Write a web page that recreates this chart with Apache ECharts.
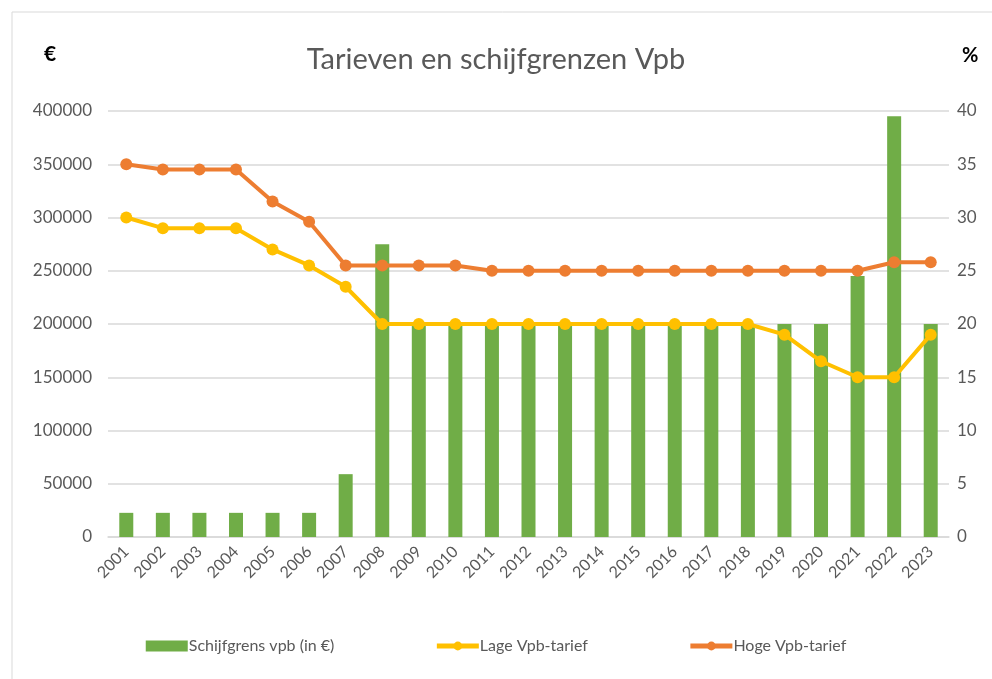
<!DOCTYPE html>
<html>
<head>
<meta charset="utf-8">
<script src="https://cdn.jsdelivr.net/npm/echarts@6/dist/echarts.min.js"></script>
<style>
  html, body { margin: 0; padding: 0; background: #fff; }
  #chart { width: 992px; height: 679px; }
</style>
</head>
<body>
<div id="chart"></div>
<script>
// jaren en waarden
const years = ['2001','2002','2003','2004','2005','2006','2007','2008','2009','2010','2011','2012',
  '2013','2014','2015','2016','2017','2018','2019','2020','2021','2022','2023'];
const schijfgrens = [22689, 22689, 22689, 22689, 22689, 22689, 59000, 275000, 200000, 200000, 200000, 200000,
  200000, 200000, 200000, 200000, 200000, 200000, 200000, 200000, 245000, 395000, 200000];
const lageTarief = [30, 29, 29, 29, 27, 25.5, 23.5, 20, 20, 20, 20, 20,
  20, 20, 20, 20, 20, 20, 19, 16.5, 15, 15, 19];
const hogeTarief = [35, 34.5, 34.5, 34.5, 31.5, 29.6, 25.5, 25.5, 25.5, 25.5, 25, 25,
  25, 25, 25, 25, 25, 25, 25, 25, 25, 25.8, 25.8];
const leftTicks = [0, 400000, 50000];
const rightTicks = [0, 40, 5];

const textColor = '#595959';
const font = 'Lato';

const chart = echarts.init(document.getElementById('chart'));

chart.setOption({
  backgroundColor: '#fff',
  textStyle: { fontFamily: font },
  title: {
    text: 'Tarieven en schijfgrenzen Vpb',
    left: 'center',
    top: 40,
    textStyle: { fontFamily: font, fontSize: 29, fontWeight: 'normal', color: textColor }
  },
  graphic: [
    { type: 'rect', shape: { x: 12, y: 12, width: 1000, height: 700 },
      style: { fill: 'none', stroke: '#d9d9d9', lineWidth: 1 }, silent: true },
    { type: 'text', left: 44, top: 44, style: { text: '€', font: 'bold 21px ' + font, fill: '#000' } },
    { type: 'text', left: 962, top: 46, style: { text: '%', font: 'bold 20px ' + font, fill: '#000' } }
  ],
  legend: {
    bottom: 20,
    left: 'center',
    itemGap: 100,
    itemWidth: 42,
    itemHeight: 11,
    textStyle: { fontFamily: font, fontSize: 16, color: textColor, padding: [0, 0, 0, -4] },
    data: [
      { name: 'Schijfgrens vpb (in €)', icon: 'rect' },
      { name: 'Lage Vpb-tarief', lineStyle: { width: 5 } },
      { name: 'Hoge Vpb-tarief', lineStyle: { width: 5 } }
    ]
  },
  grid: { left: 108, right: 43, top: 111, bottom: 142 },
  xAxis: {
    type: 'category',
    data: years,
    axisTick: { show: false },
    axisLine: { lineStyle: { color: '#d9d9d9', width: 1.5 } },
    axisLabel: { rotate: 45, color: textColor, fontSize: 16, fontFamily: font, margin: 12 }
  },
  yAxis: [
    {
      type: 'value', min: leftTicks[0], max: leftTicks[1], interval: leftTicks[2],
      axisLine: { show: false }, axisTick: { show: false },
      axisLabel: { color: textColor, fontSize: 17, fontFamily: font, margin: 16, formatter: v => String(v) },
      splitLine: { lineStyle: { color: '#d9d9d9', width: 1.5 } }
    },
    {
      type: 'value', min: rightTicks[0], max: rightTicks[1], interval: rightTicks[2],
      axisLine: { show: false }, axisTick: { show: false },
      axisLabel: { color: textColor, fontSize: 17, fontFamily: font, margin: 8 },
      splitLine: { show: false }
    }
  ],
  series: [
    {
      name: 'Schijfgrens vpb (in €)', type: 'bar', data: schijfgrens,
      barWidth: 14, itemStyle: { color: '#70AD47' }
    },
    {
      name: 'Lage Vpb-tarief', type: 'line', yAxisIndex: 1, data: lageTarief,
      symbol: 'circle', symbolSize: 12,
      lineStyle: { color: '#FFC000', width: 4 }, itemStyle: { color: '#FFC000' }
    },
    {
      name: 'Hoge Vpb-tarief', type: 'line', yAxisIndex: 1, data: hogeTarief,
      symbol: 'circle', symbolSize: 12,
      lineStyle: { color: '#ED7D31', width: 4 }, itemStyle: { color: '#ED7D31' }
    }
  ]
});
</script>
</body>
</html>
